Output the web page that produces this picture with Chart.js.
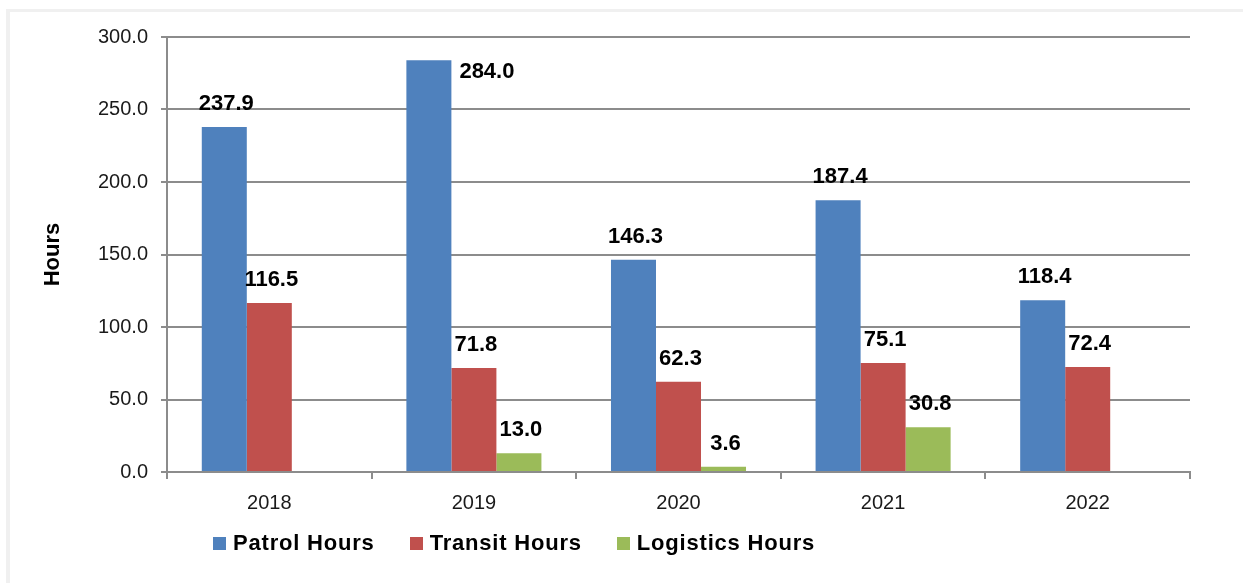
<!DOCTYPE html>
<html lang="en">
<head>
<meta charset="UTF-8">
<title>Patrol, Transit and Logistics Hours</title>
<script src="https://cdn.jsdelivr.net/npm/chart.js@4.4.1/dist/chart.umd.min.js"></script>
<style>
    body {
        margin: 0;
        padding: 0;
        background: #ffffff;
        overflow: hidden;
        font-family: 'Liberation Sans', Arial, sans-serif;
    }
    .wrap {
        position: relative;
        width: 1243px;
        height: 583px;
        overflow: hidden;
    }
    .frame {
        position: absolute;
        left: 6px;
        top: 9px;
        right: 0;
        bottom: 0;
        border-left: 4px solid #f0f0f0;
        border-top: 3px solid #f0f0f0;
    }
    .legend {
        position: absolute;
        left: 213px;
        top: 530px;
        display: flex;
        align-items: center;
        font-weight: bold;
        font-size: 22px;
        letter-spacing: 0.8px;
        color: #000;
        line-height: 26px;
    }
    .legend span.item {
        display: flex;
        align-items: center;
        margin-right: 35px;
    }
    .legend i {
        display: inline-block;
        width: 13px;
        height: 13px;
        margin-right: 7px;
    }
</style>
</head>
<body>
<div class="wrap">
    <div class="frame"></div>
    <canvas id="myChart"></canvas>
    <div class="legend" id="legend"></div>
</div>

<script>
    var years = ['2018', '2019', '2020', '2021', '2022'];
    var patrolHours = [237.9, 284.0, 146.3, 187.4, 118.4];
    var transitHours = [116.5, 71.8, 62.3, 75.1, 72.4];
    var logisticsHours = [null, 13.0, 3.6, 30.8, null];
    var seriesNames = ['Patrol Hours', 'Transit Hours', 'Logistics Hours'];
    var seriesColors = ['#4f81bd', '#c0504d', '#9bbb59'];

    var gridColor = '#8c8c8c';
    var fontFamily = "'Liberation Sans', Arial, sans-serif";

    // value labels above each bar (or beside it when there is no room above)
    var barLabels = {
        id: 'barLabels',
        afterDatasetsDraw: function (chart) {
            var ctx = chart.ctx;
            ctx.save();
            ctx.font = 'bold 22px ' + fontFamily;
            ctx.fillStyle = '#000';
            ctx.textBaseline = 'middle';
            chart.data.datasets.forEach(function (ds, di) {
                var meta = chart.getDatasetMeta(di);
                meta.data.forEach(function (bar, i) {
                    var v = ds.data[i];
                    if (v === null || v === undefined) return;
                    var txt = v.toFixed(1);
                    var y = bar.y - 23;
                    if (y < chart.chartArea.top + 12) {
                        ctx.textAlign = 'left';
                        ctx.fillText(txt, bar.x + bar.width / 2 + 8, bar.y + 12);
                    } else {
                        ctx.textAlign = 'center';
                        ctx.fillText(txt, bar.x + 2, y);
                    }
                });
            });
            ctx.restore();
        }
    };

    function makeDataset(name, data, color) {
        return {
            label: name,
            data: data,
            backgroundColor: color,
            borderWidth: 0,
            categoryPercentage: 0.66,
            barPercentage: 1.0
        };
    }

    var chart = new Chart(document.getElementById('myChart').getContext('2d'), {
        type: 'bar',
        data: {
            labels: years,
            datasets: [
                makeDataset(seriesNames[0], patrolHours, seriesColors[0]),
                makeDataset(seriesNames[1], transitHours, seriesColors[1]),
                makeDataset(seriesNames[2], logisticsHours, seriesColors[2])
            ]
        },
        options: {
            responsive: true,
            maintainAspectRatio: false,
            animation: false,
            layout: { padding: { left: 40, right: 53, top: 37, bottom: 0 } },
            plugins: {
                legend: { display: false },
                tooltip: { enabled: false }
            },
            scales: {
                x: {
                    afterFit: function (scale) { scale.height = 111; },
                    grid: {
                        offset: true,
                        drawOnChartArea: false,
                        drawTicks: true,
                        tickLength: 7,
                        color: gridColor,
                        lineWidth: 2
                    },
                    border: { color: gridColor, width: 2 },
                    ticks: {
                        padding: 12,
                        color: '#1a1a1a',
                        font: { family: fontFamily, size: 20 }
                    }
                },
                y: {
                    min: 0,
                    max: 300,
                    afterFit: function (scale) { scale.width = 127; },
                    grid: {
                        color: gridColor,
                        lineWidth: 2,
                        drawTicks: true,
                        tickLength: 6
                    },
                    border: { color: gridColor, width: 2 },
                    ticks: {
                        stepSize: 50,
                        padding: 13,
                        color: '#1a1a1a',
                        font: { family: fontFamily, size: 20 },
                        callback: function (v) { return v.toFixed(1); }
                    },
                    title: {
                        display: true,
                        text: 'Hours',
                        color: '#000',
                        padding: 0,
                        font: { family: fontFamily, size: 22, weight: 'bold' }
                    }
                }
            }
        },
        plugins: [barLabels]
    });

    // legend
    var legend = document.getElementById('legend');
    seriesNames.forEach(function (name, i) {
        var item = document.createElement('span');
        item.className = 'item';
        var box = document.createElement('i');
        box.style.background = seriesColors[i];
        item.appendChild(box);
        item.appendChild(document.createTextNode(name));
        legend.appendChild(item);
    });
</script>
</body>
</html>
